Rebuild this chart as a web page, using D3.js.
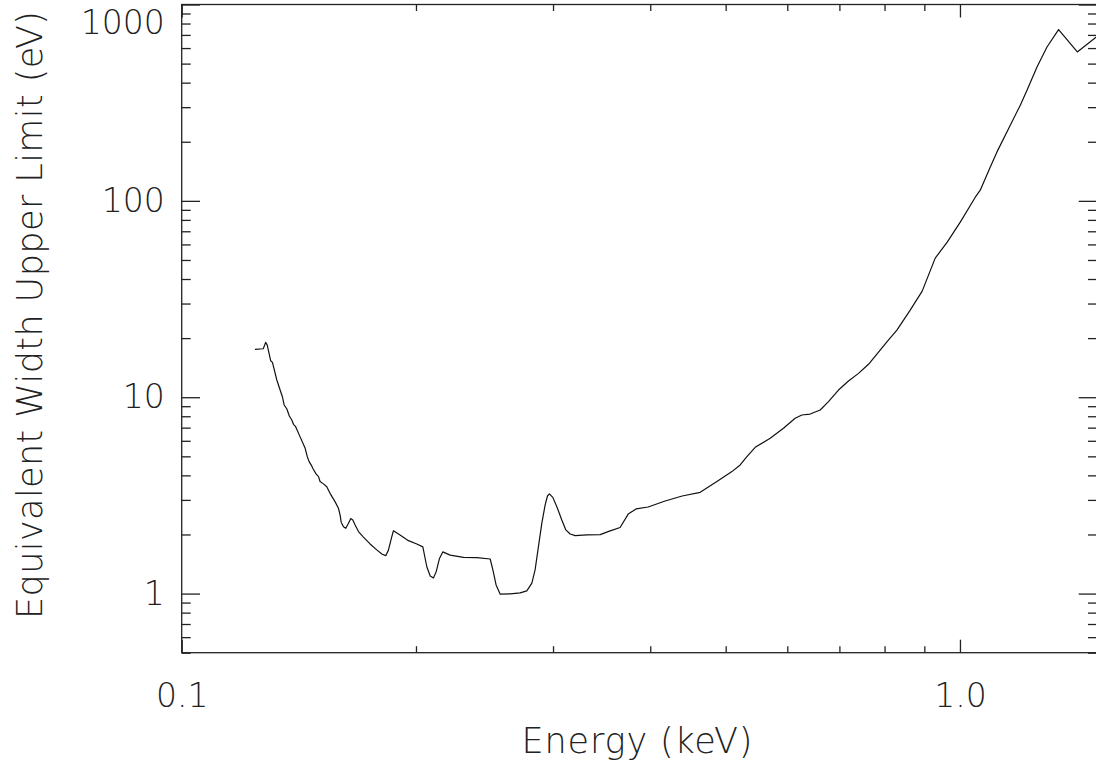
<!DOCTYPE html>
<html>
<head>
<meta charset="utf-8">
<script src="https://cdn.jsdelivr.net/npm/d3@7"></script>
<style>
  html, body { margin: 0; padding: 0; background: #fff; }
  svg { display: block; }
  text { font-family: "DejaVu Sans", "Liberation Sans", sans-serif; font-weight: 200; fill: #222; }
</style>
</head>
<body>
<svg id="chart" width="1096" height="767"></svg>
<script>
// Energy grid (keV) and the equivalent-width upper limit (eV) at each energy
const energy = [
  0.1242, 0.1273, 0.1282, 0.1288, 0.1301, 0.1308, 0.1325, 0.1338, 0.1347, 0.1354,
  0.1365, 0.1375, 0.1385, 0.1392, 0.1401, 0.1419, 0.1441, 0.1450, 0.1458, 0.1469,
  0.1476, 0.1488, 0.1499, 0.1506, 0.1521, 0.1536, 0.1551, 0.1574, 0.1590, 0.1598,
  0.1603, 0.1614, 0.1625, 0.1638, 0.1649, 0.1659, 0.1670, 0.1687, 0.1712, 0.1746,
  0.1781, 0.1808, 0.1829, 0.1843, 0.1862, 0.1871, 0.1908, 0.1956, 0.2005, 0.2041,
  0.2065, 0.2086, 0.2106, 0.2123, 0.2144, 0.2165, 0.2213, 0.2302, 0.2395, 0.2491,
  0.2511, 0.2535, 0.2566, 0.2643, 0.2722, 0.2776, 0.2818, 0.2845, 0.2873, 0.2902,
  0.2931, 0.2951, 0.2968, 0.2998, 0.3034, 0.3079, 0.3116, 0.3156, 0.3203, 0.3316,
  0.3449, 0.3552, 0.3659, 0.3747, 0.3836, 0.3975, 0.4180, 0.4396, 0.4637, 0.4872,
  0.5093, 0.5219, 0.5324, 0.5456, 0.5704, 0.5932, 0.6141, 0.6264, 0.6420, 0.6613,
  0.6777, 0.6981, 0.7191, 0.7407, 0.7629, 0.7821, 0.8056, 0.8298, 0.8631, 0.8943,
  0.9294, 0.9630, 1.0009, 1.0464, 1.0619, 1.0939, 1.1158, 1.1605, 1.1954, 1.2194,
  1.2560, 1.2937, 1.3389, 1.4151, 1.4970
];
const ewLimit = [
  17.53, 17.65, 19.03, 18.43, 15.34, 15.05, 12.24, 10.88, 10.06, 9.13,
  8.71, 8.02, 7.66, 7.28, 7.08, 6.30, 5.49, 4.98, 4.70, 4.47,
  4.30, 4.07, 3.94, 3.72, 3.62, 3.50, 3.24, 2.94, 2.72, 2.51,
  2.31, 2.19, 2.15, 2.28, 2.41, 2.37, 2.24, 2.07, 1.94, 1.79,
  1.67, 1.59, 1.56, 1.66, 1.95, 2.09, 1.99, 1.86, 1.79, 1.73,
  1.37, 1.23, 1.20, 1.29, 1.51, 1.63, 1.57, 1.53, 1.525, 1.50,
  1.32, 1.107, 0.993, 0.997, 1.008, 1.032, 1.13, 1.32, 1.73, 2.28,
  2.83, 3.14, 3.22, 3.09, 2.77, 2.37, 2.11, 2.01, 1.973, 1.989,
  1.996, 2.085, 2.17, 2.54, 2.70, 2.76, 2.96, 3.14, 3.28, 3.72,
  4.18, 4.52, 4.98, 5.56, 6.18, 6.95, 7.81, 8.12, 8.21, 8.61,
  9.49, 10.88, 12.09, 13.23, 14.71, 16.59, 19.16, 21.98, 27.79, 34.71,
  51.09, 61.63, 77.9, 104.4, 113.4, 148.9, 177.6, 242.8, 306.9, 365.9,
  480.8, 607.7, 745.4, 573.2, 683.4
];

// Axis ranges and tick values
const xDomain = [0.1, 1.5];
const yDomain = [0.5, 1000];
const xMajorTicks = [0.1, 1.0];
const xMajorLabels = ["0.1", "1.0"];
const xMinorTicks = [0.2, 0.3, 0.4, 0.5, 0.6, 0.7, 0.8, 0.9];
const yMajorTicks = [1, 10, 100, 1000];
const yMajorLabels = ["1", "10", "100", "1000"];
const yMinorTicks = [0.5, 0.6, 0.7, 0.8, 0.9, 2, 3, 4, 5, 6, 7, 8, 9,
  20, 30, 40, 50, 60, 70, 80, 90, 200, 300, 400, 500, 600, 700, 800, 900];

const xTitle = "Energy (keV)";
const yTitle = "Equivalent Width Upper Limit (eV)";

// Plot frame
const frame = { left: 181.7, right: 1097, top: 4.5, bottom: 652.7 };
const plotW = frame.right - frame.left, plotH = frame.bottom - frame.top;

const svg = d3.select("#chart");

const x = d3.scaleLog().domain(xDomain).range([frame.left, frame.right]);
const y = d3.scaleLog().domain(yDomain).range([frame.bottom, frame.top]);

const xMajLen = 13, xMinLen = 6.5, yMajLen = 18.3, yMinLen = 9;
const axisColor = "#222";
const fontSize = 33;

function styleAxis(g) {
  g.select(".domain").remove();
  g.selectAll(".tick line").attr("stroke", axisColor).attr("stroke-width", 1.3);
  g.selectAll(".tick text").attr("fill", "#222")
    .style("font-size", fontSize + "px")
    .style("font-family", "'DejaVu Sans', 'Liberation Sans', sans-serif")
    .style("font-weight", 200);
}

// Bottom axis: labelled majors, then minors
svg.append("g").attr("transform", `translate(0,${frame.bottom})`)
  .call(d3.axisBottom(x).tickValues(xMajorTicks)
    .tickFormat((d, i) => xMajorLabels[i]).tickSizeInner(-xMajLen).tickSizeOuter(0).tickPadding(30.5))
  .call(styleAxis);
svg.append("g").attr("transform", `translate(0,${frame.bottom})`)
  .call(d3.axisBottom(x).tickValues(xMinorTicks).tickFormat("").tickSizeInner(-xMinLen).tickSizeOuter(0))
  .call(styleAxis);

// Top axis: ticks only
svg.append("g").attr("transform", `translate(0,${frame.top})`)
  .call(d3.axisTop(x).tickValues(xMajorTicks).tickFormat("").tickSizeInner(-xMajLen).tickSizeOuter(0))
  .call(styleAxis);
svg.append("g").attr("transform", `translate(0,${frame.top})`)
  .call(d3.axisTop(x).tickValues(xMinorTicks).tickFormat("").tickSizeInner(-xMinLen).tickSizeOuter(0))
  .call(styleAxis);

// Left axis: labelled majors, then minors
const leftAxis = svg.append("g").attr("transform", `translate(${frame.left},0)`)
  .call(d3.axisLeft(y).tickValues(yMajorTicks)
    .tickFormat((d, i) => yMajorLabels[i]).tickSizeInner(-yMajLen).tickSizeOuter(0).tickPadding(17))
  .call(styleAxis);
// keep the top label inside the page
leftAxis.selectAll(".tick text").filter(d => d === 1000).attr("dy", "0.32em").attr("y", 18);
svg.append("g").attr("transform", `translate(${frame.left},0)`)
  .call(d3.axisLeft(y).tickValues(yMinorTicks).tickFormat("").tickSizeInner(-yMinLen).tickSizeOuter(0))
  .call(styleAxis);

// Right axis: ticks only
svg.append("g").attr("transform", `translate(${frame.right},0)`)
  .call(d3.axisRight(y).tickValues(yMajorTicks).tickFormat("").tickSizeInner(-yMajLen).tickSizeOuter(0))
  .call(styleAxis);
svg.append("g").attr("transform", `translate(${frame.right},0)`)
  .call(d3.axisRight(y).tickValues(yMinorTicks).tickFormat("").tickSizeInner(-yMinLen).tickSizeOuter(0))
  .call(styleAxis);

// Frame
svg.append("rect")
  .attr("x", frame.left).attr("y", frame.top).attr("width", plotW).attr("height", plotH)
  .attr("fill", "none").attr("stroke", axisColor).attr("stroke-width", 1.3);

// Clip for the curve
svg.append("clipPath").attr("id", "plot-clip")
  .append("rect").attr("x", frame.left).attr("y", frame.top).attr("width", plotW).attr("height", plotH);

const pts = energy.map((e, i) => [e, ewLimit[i]]);
const line = d3.line().x(d => x(d[0])).y(d => y(d[1]));

svg.append("path")
  .datum(pts)
  .attr("clip-path", "url(#plot-clip)")
  .attr("fill", "none")
  .attr("stroke", "#111")
  .attr("stroke-width", 1.2)
  .attr("stroke-linejoin", "round")
  .attr("d", line);

// Axis titles
svg.append("text")
  .attr("x", 637).attr("y", 753)
  .attr("text-anchor", "middle")
  .attr("textLength", 231)
  .attr("lengthAdjust", "spacing")
  .style("font-size", "35px")
  .text(xTitle);

svg.append("text")
  .attr("transform", "translate(42,315) rotate(-90)")
  .attr("text-anchor", "middle")
  .attr("textLength", 608)
  .attr("lengthAdjust", "spacing")
  .style("font-size", "35px")
  .text(yTitle);
</script>
</body>
</html>
